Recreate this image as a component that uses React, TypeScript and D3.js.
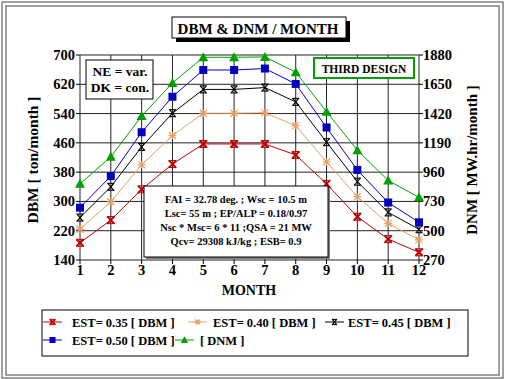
import React from "react";
import * as d3 from "d3";

const months = [1, 2, 3, 4, 5, 6, 7, 8, 9, 10, 11, 12];
const est035 = [187, 249, 333, 402, 457, 457, 457, 427, 348, 258, 197, 161];
const est040 = [224, 299, 400, 480, 541, 541, 542, 507, 408, 313, 240, 195];
const est045 = [256, 340, 449, 541, 606, 606, 611, 572, 462, 354, 270, 224];
const est050 = [283, 369, 489, 586, 659, 659, 663, 621, 502, 386, 297, 243];
const dnm = [868, 1080, 1400, 1660, 1862, 1862, 1865, 1745, 1435, 1132, 894, 762];
const leftTicks = [140, 220, 300, 380, 460, 540, 620, 700];
const rightTicks = [270, 500, 730, 960, 1190, 1420, 1650, 1880];
const infoLines = [
  "FAI = 32.78 deg. ; Wsc = 10.5 m",
  "Lsc= 55 m ; EP/ALP = 0.18/0.97",
  "Nsc * Msc= 6 * 11 ;QSA = 21 MW",
  "Qcv= 29308 kJ/kg ; ESB= 0.9",
];

const FONT = "'Liberation Serif', 'Times New Roman', serif";

type Series = { name: string; values: number[]; color: string; marker: string; axis: "L" | "R" };
const series: Series[] = [
  { name: "EST= 0.35 [ DBM ]", values: est035, color: "#c00000", marker: "x", axis: "L" },
  { name: "EST= 0.40 [ DBM ]", values: est040, color: "#e8a060", marker: "star", axis: "L" },
  { name: "EST= 0.45 [ DBM ]", values: est045, color: "#000000", marker: "hour", axis: "L" },
  { name: "EST= 0.50 [ DBM ]", values: est050, color: "#0000c0", marker: "square", axis: "L" },
  { name: "[ DNM ]", values: dnm, color: "#00a000", marker: "tri", axis: "R" },
];

function Marker({ type, x, y, color, k = 1 }: { type: string; x: number; y: number; color: string; k?: number }) {
  const s = 3.5 * k;
  if (type === "x")
    return (
      <g stroke={color} strokeWidth={2}>
        <line x1={x - s} y1={y - s} x2={x + s} y2={y + s} />
        <line x1={x - s} y1={y + s} x2={x + s} y2={y - s} />
        <line x1={x - s - 0.5} y1={y - s} x2={x + s + 0.5} y2={y - s} strokeWidth={1} />
        <line x1={x - s - 0.5} y1={y + s} x2={x + s + 0.5} y2={y + s} strokeWidth={1} />
      </g>
    );
  if (type === "star")
    return (
      <g stroke={color} strokeWidth={1.2}>
        <line x1={x - s} y1={y - s} x2={x + s} y2={y + s} />
        <line x1={x - s} y1={y + s} x2={x + s} y2={y - s} />
        <line x1={x - s - 0.5} y1={y} x2={x + s + 0.5} y2={y} />
        <line x1={x} y1={y - s} x2={x} y2={y + s} />
      </g>
    );
  if (type === "hour")
    return (
      <g stroke={color} strokeWidth={1.1}>
        <line x1={x - s + 0.5} y1={y - s} x2={x + s - 0.5} y2={y + s} />
        <line x1={x - s + 0.5} y1={y + s} x2={x + s - 0.5} y2={y - s} />
        <line x1={x - s} y1={y - s} x2={x + s} y2={y - s} />
        <line x1={x - s} y1={y + s} x2={x + s} y2={y + s} />
      </g>
    );
  if (type === "square")
    return <rect x={x - 4 * k} y={y - 4 * k} width={8 * k} height={8 * k} fill={color} />;
  return <path d={`M${x},${y - 5 * k}L${x + 5 * k},${y + 4 * k}L${x - 5 * k},${y + 4 * k}Z`} fill={color} />;
}

export default function App() {
  const W = 505, H = 379;
  const x = d3.scaleLinear().domain([1, 12]).range([80, 419]);
  const yL = d3.scaleLinear().domain([140, 700]).range([260, 55]);
  const yR = d3.scaleLinear().domain([270, 1880]).range([260, 55]);
  const line = (s: Series) =>
    d3
      .line<number>()
      .x((_, i) => x(months[i]))
      .y((v) => (s.axis === "L" ? yL(v) : yR(v)))(s.values) as string;

  const legendPos = [
    { sx: 43, tx: 72, y: 322 },
    { sx: 188, tx: 213, y: 322 },
    { sx: 325, tx: 348, y: 322 },
    { sx: 43, tx: 72, y: 340 },
    { sx: 175, tx: 200, y: 340 },
  ];

  return (
    <svg width={W} height={H} style={{ position: "absolute", left: 0, top: 0 }} fontFamily={FONT}>
      <rect x={0} y={0} width={W} height={H} fill="#ffffff" />
      <rect x={2} y={2} width={W - 4} height={H - 3} fill="none" stroke="#808080" strokeWidth={1.5} />
      <rect x={6} y={6} width={W - 12} height={H - 10} fill="#ffffff" stroke="#808080" strokeWidth={1.5} />

      {/* title */}
      <rect x={176} y={21} width={174} height={21} fill="#000" />
      <rect x={172} y={17} width={174} height={21} fill="#fff" stroke="#000" strokeWidth={1} />
      <text x={258} y={33.5} textAnchor="middle" fontSize={15} fontWeight="bold">DBM &amp; DNM / MONTH</text>

      {/* grid */}
      <rect x={80} y={55} width={339} height={205} fill="#fff" />
      {leftTicks.map((t) => (
        <line key={"h" + t} x1={80} x2={419} y1={yL(t)} y2={yL(t)} stroke="#222" strokeWidth={1} />
      ))}
      {months.map((m) => (
        <line key={"v" + m} x1={x(m)} x2={x(m)} y1={55} y2={260} stroke="#222" strokeWidth={1} />
      ))}
      {leftTicks.map((t) => (
        <line key={"lt" + t} x1={76} x2={80} y1={yL(t)} y2={yL(t)} stroke="#000" />
      ))}
      {rightTicks.map((t) => (
        <line key={"rt" + t} x1={419} x2={423} y1={yR(t)} y2={yR(t)} stroke="#000" />
      ))}
      {months.map((m) => (
        <line key={"bt" + m} x1={x(m)} x2={x(m)} y1={260} y2={264} stroke="#000" />
      ))}

      {/* tick labels */}
      {leftTicks.map((t) => (
        <text key={"ll" + t} x={75} y={yL(t) + 5} textAnchor="end" fontSize={14.5} fontWeight="bold">{t}</text>
      ))}
      {rightTicks.map((t) => (
        <text key={"rl" + t} x={423} y={yR(t) + 5} textAnchor="start" fontSize={14.5} fontWeight="bold">{t}</text>
      ))}
      {months.map((m) => (
        <text key={"ml" + m} x={x(m)} y={275} textAnchor="middle" fontSize={14.5} fontWeight="bold">{m}</text>
      ))}

      {/* axis titles */}
      <text transform="translate(38,160) rotate(-90)" textAnchor="middle" fontSize={15.5} fontWeight="bold">DBM [ ton/month ]</text>
      <text transform="translate(477,160) rotate(-90)" textAnchor="middle" fontSize={15} fontWeight="bold">DNM [ MW.hr/month ]</text>
      <text x={249} y={295} textAnchor="middle" fontSize={14} fontWeight="bold">MONTH</text>

      {/* series */}
      {series.map((s) => (
        <path key={"p" + s.name} d={line(s)} fill="none" stroke={s.color} strokeWidth={1} />
      ))}
      {series.map((s) =>
        s.values.map((v, i) => (
          <Marker key={s.name + i} type={s.marker} x={x(months[i])} y={s.axis === "L" ? yL(v) : yR(v)} color={s.color} />
        ))
      )}

      {/* NE box */}
      <rect x={86} y={60} width={67} height={39} fill="#fff" stroke="#000" strokeWidth={1} />
      <text x={120} y={75.5} textAnchor="middle" fontSize={13.5} fontWeight="bold">NE = var.</text>
      <text x={120} y={91.5} textAnchor="middle" fontSize={13.5} fontWeight="bold">DK = con.</text>

      {/* THIRD DESIGN */}
      <rect x={314} y={58} width={100} height={20} fill="#fff" stroke="#00a000" strokeWidth={2} />
      <text x={364} y={72.5} textAnchor="middle" fontSize={11.5} fontWeight="bold">THIRD DESIGN</text>

      {/* info box */}
      <rect x={146} y={188} width={184} height={71} fill="#808080" />
      <rect x={144} y={186} width={184} height={71} fill="#fff" stroke="#000" strokeWidth={1} />
      {infoLines.map((l, i) => (
        <text key={"i" + i} x={236} y={203 + i * 14} textAnchor="middle" fontSize={10.5} fontWeight="bold">{l}</text>
      ))}

      {/* legend */}
      <rect x={42} y={310} width={426} height={46} fill="#fff" stroke="#000" strokeWidth={1} />
      {series.map((s, i) => {
        const p = legendPos[i];
        return (
          <g key={"lg" + i}>
            <line x1={p.sx} x2={p.sx + 19} y1={p.y} y2={p.y} stroke={s.color} strokeWidth={1} />
            <Marker type={s.marker} x={p.sx + 9.5} y={p.y} color={s.color} k={0.75} />
            <text x={p.tx} y={p.y + 4.5} fontSize={12.5} fontWeight="bold">{s.name}</text>
          </g>
        );
      })}
    </svg>
  );
}
